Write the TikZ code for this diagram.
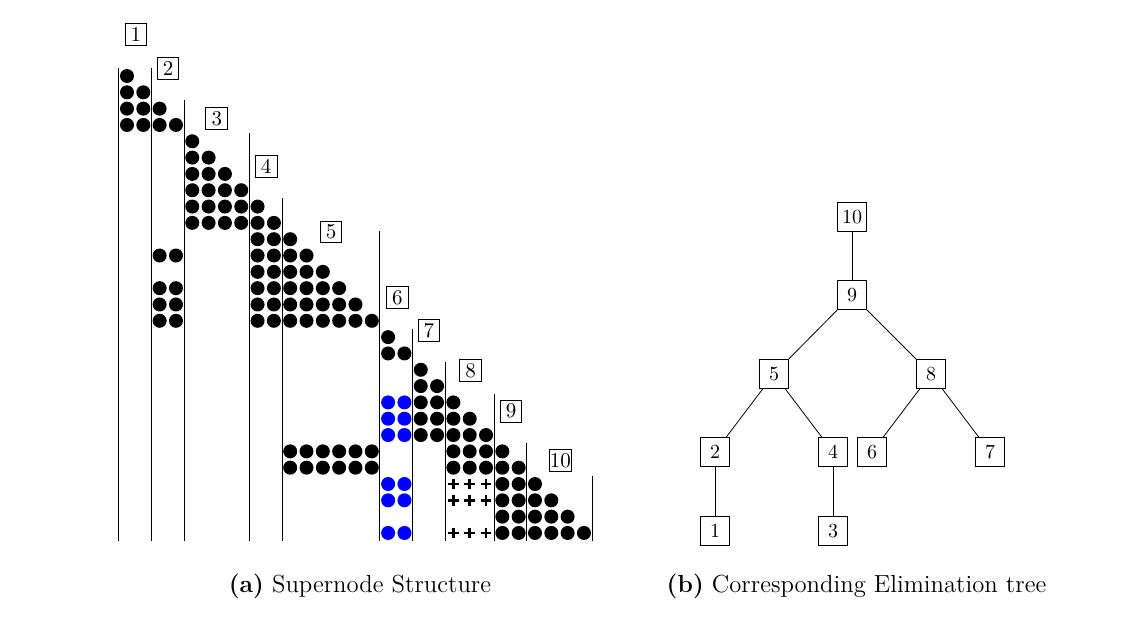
\documentclass[tikz,border=0pt]{standalone}
\tikzset{
  lbl/.style={draw, line width=0.5pt, inner sep=0.3pt, minimum size=10.8pt, font=\fontsize{10.5}{12}\selectfont},
  tnode/.style={draw, line width=0.5pt, inner sep=2.3pt, minimum size=14.5pt, font=\fontsize{10}{12}\selectfont},
  tedge/.style={line width=0.4pt},
  sepline/.style={line width=0.5pt},
  bdot/.style={fill=black},
  udot/.style={fill=blue},
  plusmark/.style={line width=1.3pt},
  captext/.style={font=\fontsize{12.35}{14}\selectfont, inner sep=0pt}
}
\begin{document}
\begin{tikzpicture}[x=0.5pt,y=-0.5pt]
\useasboundingbox (0,0) rectangle (1148,622);
\begin{scope}[shift={(127,76)}, x=8.16pt, y=-8.16pt]
  % black dots: row/first col/last col
  \foreach \r/\a/\b in {1/1/1, 2/1/2, 3/1/3, 4/1/4,
      5/5/5, 6/5/6, 7/5/7, 8/5/8, 9/5/9, 10/5/10,
      11/9/11, 12/3/4, 12/9/12, 13/9/13, 14/3/4, 14/9/14, 15/3/4, 15/9/15, 16/3/4, 16/9/16,
      17/17/17, 18/17/18, 19/19/19, 20/19/20, 21/19/21, 22/19/22, 23/19/23,
      24/11/16, 24/21/24, 25/11/16, 25/21/25,
      26/24/26, 27/24/27, 28/24/28, 29/24/29}
    \foreach \c in {\a,...,\b}
      \fill[bdot] (\c-1,\r-1) circle[radius=3.5pt];
  % blue dots
  \foreach \r in {21,22,23,26,27,29}
    \foreach \c in {17,18}
      \fill[udot] (\c-1,\r-1) circle[radius=3.5pt];
  % plus marks
  \foreach \r in {26,27,29}
    \foreach \c in {21,22,23}
      \draw[plusmark] (\c-1.33,\r-1) -- (\c-0.67,\r-1) (\c-1,\r-1.33) -- (\c-1,\r-0.67);
  % separator lines: boundary after column / starting row
  \foreach \b/\t in {0/1, 2/1, 4/3, 8/5, 10/9, 16/11, 18/17, 20/19, 23/21, 25/24, 29/26}
    \draw[sepline] (\b-0.5,\t-1.5) -- (\b-0.5,28.5);
  % supernode labels
  \node[lbl] (s1) at (0.55,-2.54) {1};
  \node[lbl] (s2) at (2.52,-0.47) {2};
  \node[lbl] (s3) at (5.5,2.62) {3};
  \node[lbl] (s4) at (8.53,5.53) {4};
  \node[lbl] (s5) at (12.5,9.57) {5};
  \node[lbl] (s6) at (16.56,13.57) {6};
  \node[lbl] (s7) at (18.5,15.58) {7};
  \node[lbl] (s8) at (21.05,18.04) {8};
  \node[lbl] (s9) at (23.54,20.54) {9};
  \node[lbl] (s10) at (26.56,23.55) {10};
\end{scope}
% elimination tree
\node[tnode] (t10) at (852,217) {10};
\node[tnode] (t9) at (852,295) {9};
\node[tnode] (t5) at (774,374) {5};
\node[tnode] (t8) at (931,374) {8};
\node[tnode] (t2) at (715,452) {2};
\node[tnode] (t4) at (833,452) {4};
\node[tnode] (t6) at (872,452) {6};
\node[tnode] (t7) at (990,452) {7};
\node[tnode] (t1) at (715,531) {1};
\node[tnode] (t3) at (833,531) {3};
\draw[tedge] (t10) -- (t9);
\draw[tedge] (t9) -- (t5);
\draw[tedge] (t9) -- (t8);
\draw[tedge] (t5) -- (t2);
\draw[tedge] (t5) -- (t4);
\draw[tedge] (t8) -- (t6);
\draw[tedge] (t8) -- (t7);
\draw[tedge] (t2) -- (t1);
\draw[tedge] (t4) -- (t3);
% captions
\node[captext, anchor=base] (capa) at (360,592) {\textbf{(a)} Supernode Structure};
\node[captext, anchor=base] (capb) at (856.5,592) {\textbf{(b)} Corresponding Elimination tree};
\end{tikzpicture}
\end{document}
